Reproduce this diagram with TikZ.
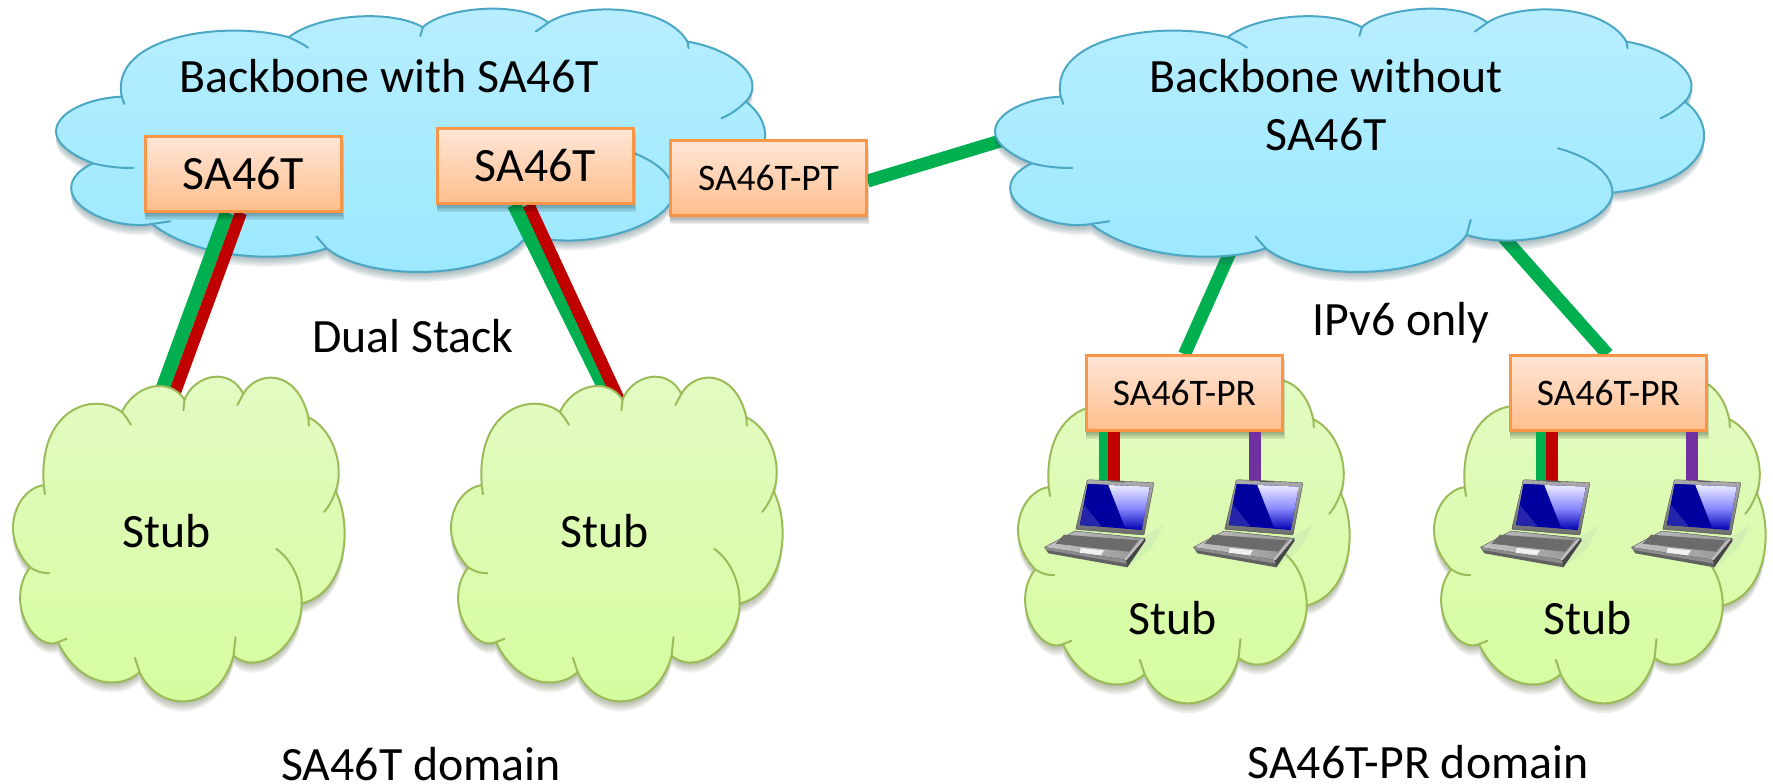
\documentclass[tikz,border=0pt]{standalone}
\usepackage{fontspec}
\setmainfont{Carlito}
\usetikzlibrary{calc}
\pgfdeclarelayer{under}\pgfdeclarelayer{blue}\pgfdeclarelayer{duallinks}\pgfdeclarelayer{stubs}\pgfdeclarelayer{hostlinks}
\pgfsetlayers{under,blue,duallinks,stubs,hostlinks,main}
\definecolor{lkgreen}{HTML}{00B050}
\definecolor{lkred}{HTML}{C00000}
\definecolor{lkpurple}{HTML}{7030A0}
\definecolor{blueline}{HTML}{4BA7C4}
\definecolor{greenline}{HTML}{9BBB59}
\definecolor{boxline}{HTML}{F79646}
\newcommand\cloudoutline{
 (160,290) .. controls (135,105) and (370,60) .. (490,112)
 .. controls (545,45) and (690,25) .. (755,82)
 .. controls (795,22) and (945,0) .. (1003,68)
 .. controls (1060,10) and (1230,5) .. (1278,125)
 .. controls (1375,150) and (1435,240) .. (1393,305)
 .. controls (1465,385) and (1445,550) .. (1250,578)
 .. controls (1250,670) and (1080,760) .. (962,705)
 .. controls (900,840) and (650,850) .. (565,745)
 .. controls (480,790) and (310,780) .. (220,672)
 .. controls (150,690) and (60,630) .. (60,565)
 .. controls (60,535) and (75,510) .. (103,490)
 .. controls (60,465) and (30,430) .. (30,395)
 .. controls (30,340) and (90,295) .. (160,290) -- cycle}
\newcommand\cloudtails{
 (490,112) .. controls (505,122) and (518,132) .. (528,143)
 (755,82) -- (750,108)
 (1003,68) -- (978,95)
 (1278,125) -- (1280,145)
 (1393,305) .. controls (1380,325) and (1365,342) .. (1345,355)
 (1250,578) .. controls (1250,520) and (1205,470) .. (1142,445)
 (962,705) -- (970,660)
 (565,745) -- (545,710)
 (220,672) -- (256,664)
 (103,490) .. controls (125,499) and (155,505) .. (183,504)
 (160,290) -- (165,312)}
% x y w h colourtop colourbottom line
\newcommand\drawcloud[7]{%
 \begin{scope}[shift={(#1,#2)},xscale=#3/1407,yscale=#4/798,shift={(-30,-22)}]
  \foreach \d in {2,4,6,8,10}{
   \fill[#7!45!black,opacity=.09,shift={(0,\d*798/#4)}] \cloudoutline;}
  \shade[top color=#5,bottom color=#6,draw=#7,line width=2bp,line join=round] \cloudoutline;
  \draw[#7,line width=2bp,line cap=round] \cloudtails;
 \end{scope}}
\newcommand\drawlaptop[1]{%
 \begin{scope}[shift={(1000+#1,470)},scale=1/3]
  \fill[black!60!green!30,opacity=.25] (432,200)--(490,165)--(455,235)--(385,290)--cycle;
  % base
  \shade[left color=gray!45,right color=gray!85!white,draw=gray!60!black,line width=.4bp,line join=round] (225,183)--(435,205)--(378,270)--(133,232)--cycle;
  \fill[black!62] (133,232)--(145,250)--(382,292)--(378,270)--cycle;
  \fill[gray!90] (133,232)--(140,240)--(380,281)--(378,270)--cycle;
  \fill[black!72] (378,270)--(382,292)--(437,212)--(435,205)--cycle;
  \fill[gray!50] (372,268)--(380,270)--(432,208)--(424,208)--cycle;
  \fill[black!58] (192,194)--(415,211)--(388,245)--(166,222)--cycle;
  \fill[white!88!gray] (243,234)--(312,241)--(302,256)--(238,248)--cycle;
  \fill[gray!55] (170,222)--(226,228)--(222,236)--(165,230)--cycle;
  % lid
  \shade[top color=gray!65,bottom color=gray!85!black,draw=gray!60!black,line width=.4bp,line join=round,rounded corners=1bp] (262,29)--(462,38)--(432,195)--(227,178)--cycle;
  \fill[gray!75!black] (330,31)--(372,33)--(372,37)--(330,35)--cycle;
  % screen
  \shade[left color=blue!65!black,right color=blue!75!black] (263,42)--(449,50)--(425,180)--(240,165)--cycle;
  \fill[blue!62!black] (263,42)--(325,45)--(375,172)--(240,165)--cycle;
  \shade[top color=white!92!blue,bottom color=blue!70!black,middle color=blue!45!white] (325,45)--(449,50)--(425,180)--(375,172)--cycle;
  \fill[white!30!blue!70!black,opacity=.7] (252,105)--(305,169)--(240,165)--cycle;
 \end{scope}}
\tikzset{
 boxnode/.style={draw=boxline,line width=2.4bp,top color=boxtop,bottom color=boxbot,minimum width=196bp,minimum height=75bp,inner sep=0pt,text=black},
 bigtext/.style={font=\fontsize{48}{58}\selectfont,text=black,inner sep=0pt},
 smalltext/.style={font=\fontsize{37.6}{44}\selectfont},
 wire/.style={line width=13bp},
 hostwire/.style={line width=12bp},
}
\definecolor{boxtop}{HTML}{FFE6D8}
\definecolor{boxbot}{HTML}{FFBE8C}
\definecolor{cloudbtop}{HTML}{B8EEFF}
\definecolor{cloudbbot}{HTML}{9AE8FF}
\definecolor{cloudgtop}{HTML}{E3FBC3}
\definecolor{cloudgbot}{HTML}{D5FC9E}
\newcommand\boxshadow[1]{%
 \begin{pgfonlayer}{hostlinks}
 \foreach \d in {1.5,3,4.5,6,7.5}{\fill[black,opacity=.07] ([xshift=\d*.15bp,yshift=-\d*1bp]#1.south west) rectangle ([xshift=\d*.15bp,yshift=-\d*1bp]#1.north east);}
 \end{pgfonlayer}}
\begin{document}
\begin{tikzpicture}[x=1bp,y=-1bp]
\useasboundingbox (0,0) rectangle (1773,784);
% boxes
\node[boxnode,bigtext] (b1) at (243.5,174) {SA46T};
\node[boxnode,bigtext] (b2) at (535.5,166) {SA46T};
\node[boxnode,smalltext] (pt) at (768.5,178) {SA46T-PT};
\node[boxnode,smalltext] (pr1) at (1184.5,393) {SA46T-PR};
\node[boxnode,smalltext] (pr2) at (1608.5,393) {SA46T-PR};
\boxshadow{b1}\boxshadow{b2}\boxshadow{pt}\boxshadow{pr1}\boxshadow{pr2}
% free ends
\coordinate (cloudLeftIn) at (1020,135);
\coordinate (cloudA) at (1240,230);
\coordinate (cloudB) at (1490,222);
\coordinate (stub1g) at (162,390);
\coordinate (stub1r) at (174,395);
\coordinate (stub2g) at (606,391);
\coordinate (stub2r) at (620,402);
% clouds
\begin{pgfonlayer}{blue}
\drawcloud{56}{7.3}{712}{266}{cloudbtop}{cloudbbot}{blueline}
\drawcloud{995}{7.3}{712}{266}{cloudbtop}{cloudbbot}{blueline}
\end{pgfonlayer}
\begin{pgfonlayer}{stubs}
\drawcloud{13}{375}{333}{328}{cloudgtop}{cloudgbot}{greenline}
\drawcloud{451}{375}{333}{328}{cloudgtop}{cloudgbot}{greenline}
\drawcloud{1018}{377}{333}{328}{cloudgtop}{cloudgbot}{greenline}
\drawcloud{1434}{377}{333}{328}{cloudgtop}{cloudgbot}{greenline}
\end{pgfonlayer}
% connectors
\begin{pgfonlayer}{under}
\draw[wire,lkgreen] ([yshift=-3bp]pt.east) -- (cloudLeftIn);
\draw[wire,lkgreen] (pr1.north) -- (cloudA);
\draw[wire,lkgreen] ([xshift=-1bp]pr2.north) -- (cloudB);
\end{pgfonlayer}
\begin{pgfonlayer}{duallinks}
\draw[wire,lkgreen,line width=14bp] ([xshift=-16.5bp]b1.south) -- (stub1g);
\draw[wire,lkred,line width=12bp] ([xshift=-2.5bp]b1.south) -- (stub1r);
\draw[wire,lkgreen,line width=14bp] ([xshift=-21.5bp]b2.south) -- (stub2g);
\draw[wire,lkred,line width=12bp] ([xshift=-7bp]b2.south) -- (stub2r);
\end{pgfonlayer}
% laptops
\begin{pgfonlayer}{hostlinks}
\coordinate (h1g) at (1105,490);\coordinate (h1r) at (1114,490);\coordinate (h1p) at (1255,490);
\coordinate (h2g) at (1541.5,490);\coordinate (h2r) at (1551.5,490);\coordinate (h2p) at (1692,490);
\draw[hostwire,lkgreen] (pr1.south -| h1g) -- (h1g);
\draw[hostwire,lkred] (pr1.south -| h1r) -- (h1r);
\draw[hostwire,lkpurple] (pr1.south -| h1p) -- (h1p);
\draw[hostwire,lkgreen] (pr2.south -| h2g) -- (h2g);
\draw[hostwire,lkred] (pr2.south -| h2r) -- (h2r);
\draw[hostwire,lkpurple] (pr2.south -| h2p) -- (h2p);
\end{pgfonlayer}
\drawlaptop{0}\drawlaptop{149}\drawlaptop{436}\drawlaptop{587}
% text
\node[bigtext,anchor=base] (t1) at (389,92) {Backbone with SA46T};
\node[bigtext,anchor=base] (t2) at (1326,92) {Backbone without};
\node[bigtext,anchor=base] (t3) at (1326,150) {SA46T};
\node[bigtext,anchor=base] (t4) at (413,352) {Dual Stack};
\node[bigtext,anchor=base] (t5) at (1401,335) {IPv6 only};
\node[bigtext,anchor=base] (s1) at (167,547) {Stub};
\node[bigtext,anchor=base] (s2) at (605,547) {Stub};
\node[bigtext,anchor=base] (s3) at (1172.5,634) {Stub};
\node[bigtext,anchor=base] (s4) at (1588,634) {Stub};
\node[bigtext,anchor=base] (d1) at (421,780) {SA46T domain};
\node[bigtext,anchor=base] (d2) at (1418,778) {SA46T-PR domain};
\end{tikzpicture}
\end{document}
